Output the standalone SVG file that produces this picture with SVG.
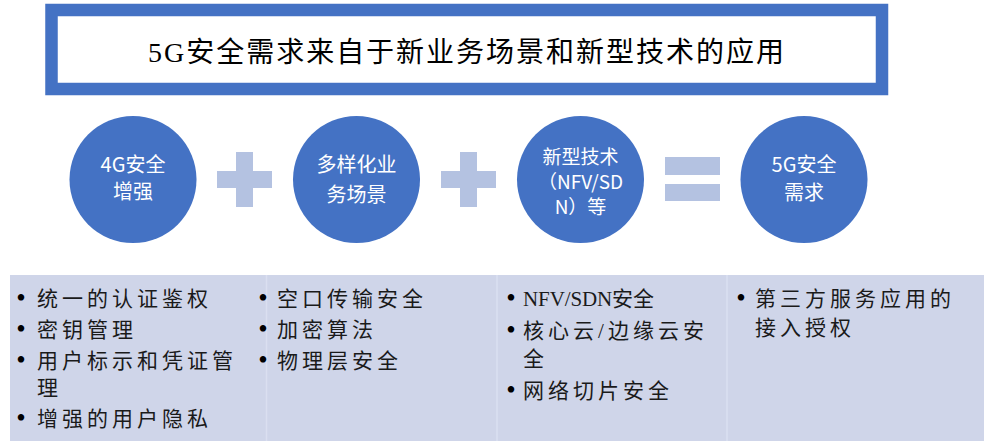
<svg xmlns="http://www.w3.org/2000/svg" width="984" height="441" viewBox="0 0 984 441">
  <style>
    .circle { fill: #4472C4; }
    .ctext { font-family: "Noto Sans CJK SC", "Noto Sans", sans-serif; font-size: 20px; fill: #FFFFFF; text-anchor: middle; }
    .ctext-s { font-family: "Noto Sans CJK SC", "Noto Sans", sans-serif; font-size: 19px; fill: #FFFFFF; text-anchor: middle; }
    .op { fill: #B4C2E1; }
    .btext { font-family: "Liberation Serif", "Noto Sans CJK SC", serif; font-size: 21px; fill: #1A1A1A; letter-spacing: 4px; }
    .bullet { font-family: "Liberation Serif", serif; font-size: 27px; fill: #000000; text-anchor: middle; }
    .divider { stroke: #DADFF0; stroke-width: 1.5; }
  </style>
  <rect width="984" height="441" fill="#FFFFFF"/>

  <g id="title">
    <rect x="51.5" y="10" width="830.5" height="79" fill="#FFFFFF" stroke="#4472C4" stroke-width="12.5"/>
    <text x="148" y="62" textLength="636" lengthAdjust="spacing" font-family="Liberation Serif, Noto Sans CJK SC, serif" font-size="28" fill="#000000">5G安全需求来自于新业务场景和新型技术的应用</text>
  </g>

  <g id="node-4g">
    <circle class="circle" cx="133" cy="179.5" r="63.5"/>
    <text class="ctext" x="133" y="172">4G安全</text>
    <text class="ctext" x="133" y="199">增强</text>
  </g>
  <g id="node-scene">
    <circle class="circle" cx="356.5" cy="179.5" r="63.5"/>
    <text class="ctext" x="356.5" y="172">多样化业</text>
    <text class="ctext" x="356.5" y="202">务场景</text>
  </g>
  <g id="node-tech">
    <circle class="circle" cx="580.5" cy="179.5" r="63.5"/>
    <text class="ctext-s" x="580.5" y="164">新型技术</text>
    <text class="ctext-s" x="580.5" y="189">（NFV/SD</text>
    <text class="ctext-s" x="580.5" y="214">N）等</text>
  </g>
  <g id="node-5g">
    <circle class="circle" cx="804" cy="179.5" r="63.5"/>
    <text class="ctext" x="804" y="172">5G安全</text>
    <text class="ctext" x="804" y="200">需求</text>
  </g>

  <g id="operators">
    <rect class="op" x="217" y="171" width="55" height="17"/>
    <rect class="op" x="236" y="152" width="17" height="55"/>
    <rect class="op" x="441" y="171" width="55" height="17"/>
    <rect class="op" x="460" y="152" width="17" height="55"/>
    <rect class="op" x="665" y="157" width="55" height="18"/>
    <rect class="op" x="665" y="184" width="55" height="17"/>
  </g>

  <g id="panel">
    <rect x="10" y="275" width="974" height="166" fill="#CFD5E9"/>
    <line class="divider" x1="266.5" y1="275" x2="266.5" y2="441"/>
    <line class="divider" x1="497" y1="275" x2="497" y2="441"/>
    <line class="divider" x1="727" y1="275" x2="727" y2="441"/>
  </g>

  <g id="list-4g">
    <text class="bullet" x="21" y="307">•</text>
    <text class="btext" x="37" y="306">统一的认证鉴权</text>
    <text class="bullet" x="21" y="338">•</text>
    <text class="btext" x="37" y="337">密钥管理</text>
    <text class="bullet" x="21" y="369">•</text>
    <text class="btext" x="37" y="368">用户标示和凭证管</text>
    <text class="btext" x="37" y="395">理</text>
    <text class="bullet" x="21" y="427">•</text>
    <text class="btext" x="37" y="426">增强的用户隐私</text>
  </g>
  <g id="list-scene">
    <text class="bullet" x="263" y="307">•</text>
    <text class="btext" x="277" y="306">空口传输安全</text>
    <text class="bullet" x="263" y="338">•</text>
    <text class="btext" x="277" y="337">加密算法</text>
    <text class="bullet" x="263" y="369">•</text>
    <text class="btext" x="277" y="368">物理层安全</text>
  </g>
  <g id="list-tech">
    <text class="bullet" x="511" y="307">•</text>
    <text class="btext" x="523" y="306" textLength="135" lengthAdjust="spacing">NFV/SDN安全</text>
    <text class="bullet" x="511" y="339">•</text>
    <text class="btext" x="523" y="338" textLength="185" lengthAdjust="spacing">核心云/边缘云安</text>
    <text class="btext" x="523" y="366">全</text>
    <text class="bullet" x="511" y="399">•</text>
    <text class="btext" x="523" y="398">网络切片安全</text>
  </g>
  <g id="list-5g">
    <text class="bullet" x="741" y="307">•</text>
    <text class="btext" x="755" y="306">第三方服务应用的</text>
    <text class="btext" x="755" y="335">接入授权</text>
  </g>
</svg>
